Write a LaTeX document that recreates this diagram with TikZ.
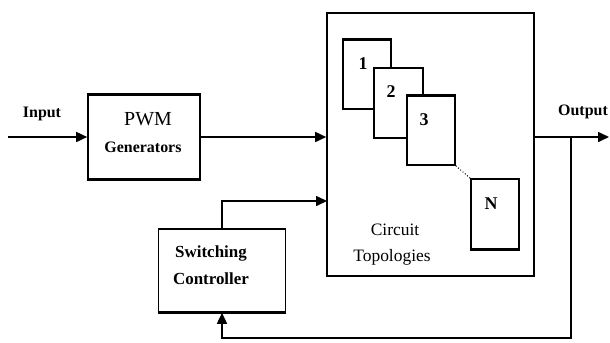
\documentclass[tikz,border=0pt]{standalone}
\usepackage{fontspec}
\setmainfont{Liberation Serif}
\usetikzlibrary{arrows.meta}
\begin{document}
\begin{tikzpicture}[x=1bp,y=-1bp,
  box/.style={draw=black,line width=1.6bp,fill=white,inner sep=0pt},
  thick edge/.style={line width=3bp},
  wire/.style={line width=1.6bp},
  arr/.style={wire,-{Triangle[length=11bp,width=10bp]}},
  lbl/.style={font=\fontsize{16}{18}\selectfont\bfseries,anchor=base,inner sep=0pt},
  num lbl/.style={font=\fontsize{18}{20}\selectfont\bfseries,anchor=base,inner sep=0pt},
  big lbl/.style={font=\fontsize{20}{22}\selectfont,anchor=base,inner sep=0pt},
  reg lbl/.style={font=\fontsize{17.5}{19}\selectfont,anchor=base,inner sep=0pt},
  sw lbl/.style={font=\fontsize{17}{19}\selectfont\bfseries,anchor=base,inner sep=0pt}]
\useasboundingbox (0,0) rectangle (610,342);

% blocks
\node[box,minimum width=112bp,minimum height=84bp] (pwm) at (144,137) {};
\node[box,minimum width=127bp,minimum height=83bp] (sc) at (222,270.5) {};
\node[box,minimum width=207bp,minimum height=263bp] (big) at (430.5,144.5) {};
\node[box,minimum width=48bp,minimum height=69bp] (b1) at (367,74.5) {};
\node[box,minimum width=49bp,minimum height=70bp] (b2) at (398.5,103) {};
\node[box,minimum width=48bp,minimum height=69bp] (b3) at (431,130.5) {};
\node[box,minimum width=48bp,minimum height=70bp] (bN) at (495,214) {};

% heavier edges (scan look)
\draw[thick edge] (pwm.north west) -- (pwm.north east);
\draw[line width=2.4bp] (pwm.south west) -- (pwm.south east);
\draw[thick edge] (sc.south west) -- (sc.south east);
\draw[thick edge] (b1.north west) -- (b1.north east);
\draw[thick edge] (b3.north west) -- (b3.north east);
\draw[thick edge] (bN.south west) -- (bN.south east);

% texts
\node[lbl] (tin) at (42,117) {Input};
\node[big lbl] (tpwm) at (148,125) {PWM};
\node[lbl] (tgen) at (143,152) {Generators};
\node[lbl] (tout) at (583,115) {Output};
\node[num lbl] (t1) at (363,69) {1};
\node[num lbl] (t2) at (391,97) {2};
\node[num lbl] (t3) at (424,125) {3};
\node[num lbl] (tN) at (491,209) {N};
\node[reg lbl] (tc1) at (395,235) {Circuit};
\node[reg lbl] (tc2) at (392,261) {Topologies};
\node[sw lbl] (ts1) at (211,257) {Switching};
\node[sw lbl] (ts2) at (211,284) {Controller};

% connectors
\coordinate (inp) at (8,137);
\coordinate (outp) at (609,137);
\coordinate (fb) at (571,137);
\coordinate (fbc) at (571,338);
\coordinate (ctl) at (327,201);
\draw[dotted,line width=1bp] (b3.south east) -- (bN.north west);
\draw[arr] (inp) -- (pwm.west);
\draw[arr] (pwm.east) -- (pwm.east -| big.west);
\draw[arr] (sc.north) |- (ctl);
\draw[arr] (big.east |- outp) -- (outp);
\draw[arr] (fb) -- (fbc) -| (sc.south);
\end{tikzpicture}
\end{document}
